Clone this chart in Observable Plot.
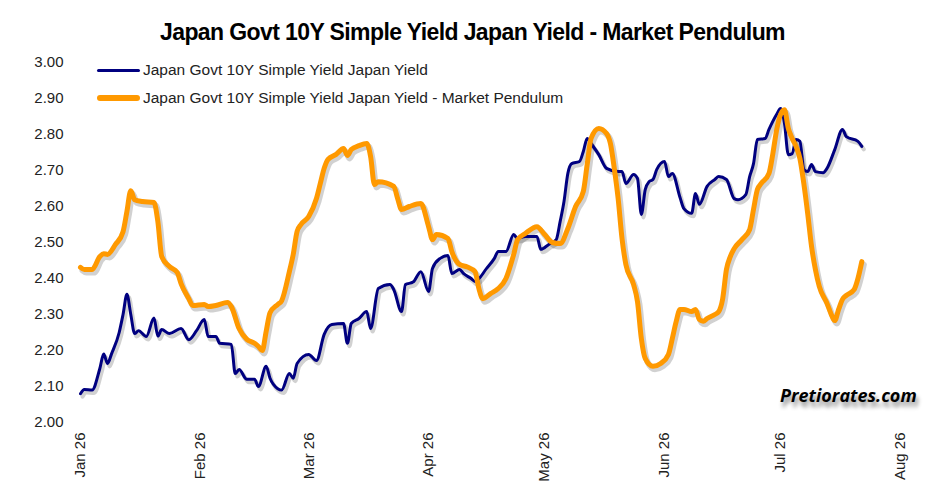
<!DOCTYPE html>
<html><head><meta charset="utf-8">
<script src="https://cdn.jsdelivr.net/npm/d3@7"></script>
<script src="https://cdn.jsdelivr.net/npm/@observablehq/plot@0.6"></script>
<style>
body{margin:0;background:#fff;}
#wrap{position:relative;width:945px;height:500px;font-family:"Liberation Sans",Arial,sans-serif;overflow:hidden;}
#title{position:absolute;left:0;top:21px;width:945px;text-align:center;font-weight:bold;font-size:23px;line-height:23px;letter-spacing:-0.6px;color:#000;}
.leg{position:absolute;left:97px;height:16px;font-size:15.5px;line-height:16px;color:#222;display:flex;align-items:center;white-space:nowrap;}
.leg .sw{display:inline-block;width:43px;border-radius:3px;margin-right:3px;}
#wm{position:absolute;left:780px;top:386px;font-family:"Open Sans",sans-serif;font-weight:bold;font-style:italic;font-size:18px;line-height:18px;color:#000;text-shadow:2px 5px 4px rgba(0,0,0,0.45);}
#chart{position:absolute;left:0;top:0;}
</style>
</head><body>
<div id="wrap">
  <div id="chart"></div>
  <div id="title"></div>
  <div class="leg" id="leg1" style="top:62px"><span class="sw" style="height:3px;background:#000080"></span><span class="tx"></span></div>
  <div class="leg" id="leg2" style="top:90px"><span class="sw" style="height:6px;background:#FF9900"></span><span class="tx"></span></div>
  <div id="wm">Pretiorates.com</div>
</div>
<script>
const titleText = "Japan Govt 10Y Simple Yield Japan Yield - Market Pendulum";
const seriesNames = ["Japan Govt 10Y Simple Yield Japan Yield", "Japan Govt 10Y Simple Yield Japan Yield - Market Pendulum"];
const seriesColors = ["#000080", "#FF9900"];

const xTicks = ["2026-01-01","2026-02-01","2026-03-01","2026-04-01","2026-05-01","2026-06-01","2026-07-01","2026-08-01"];
const yTicks = [2.0,2.1,2.2,2.3,2.4,2.5,2.6,2.7,2.8,2.9,3.0];

const blueDates = ["01-01","01-02","01-04","01-06","01-07","01-08","01-09","01-11","01-12","01-13","01-14","01-15","01-16","01-18","01-20","01-21","01-22","01-24","01-27","01-29","01-31",
"02-02","02-03","02-05","02-06","02-09","02-10","02-11","02-13","02-15","02-16","02-18","02-19","02-21","02-22","02-24","02-25","02-26",
"03-01","03-03","03-05","03-07","03-10","03-11","03-12","03-14","03-16","03-17","03-19","03-22","03-23","03-25","03-26","03-28","03-30",
"04-01","04-02","04-04","04-06","04-07","04-09","04-10","04-12","04-13","04-16","04-18","04-19","04-21","04-23","04-24","04-26","04-29","04-30",
"05-02","05-04","05-05","05-06","05-07","05-08","05-10","05-11","05-12","05-13","05-15","05-17","05-20","05-21","05-22","05-24","05-25","05-26","05-27","05-28","05-29","05-30",
"06-01","06-02","06-03","06-05","06-06","06-08","06-09","06-10","06-12","06-14","06-15","06-17","06-19","06-20","06-22","06-23","06-24","06-25","06-27","06-28","06-30",
"07-01","07-02","07-03","07-04","07-05","07-06","07-07","07-08","07-09","07-10","07-12","07-13","07-15","07-17","07-18","07-21","07-22"];
const blueValues = [2.080,2.092,2.090,2.150,2.190,2.164,2.190,2.250,2.300,2.356,2.300,2.247,2.255,2.239,2.290,2.240,2.258,2.247,2.261,2.230,2.255,
2.286,2.239,2.239,2.220,2.217,2.136,2.147,2.120,2.120,2.100,2.156,2.123,2.094,2.090,2.136,2.123,2.164,
2.189,2.172,2.245,2.272,2.275,2.220,2.275,2.289,2.308,2.261,2.372,2.383,2.369,2.308,2.383,2.390,2.419,
2.364,2.428,2.456,2.464,2.414,2.425,2.414,2.400,2.392,2.428,2.456,2.475,2.475,2.522,2.511,2.517,2.517,2.481,
2.494,2.508,2.558,2.614,2.692,2.719,2.725,2.753,2.789,2.775,2.744,2.706,2.697,2.697,2.664,2.689,2.678,2.578,2.647,2.669,2.675,2.703,
2.725,2.683,2.692,2.625,2.594,2.581,2.636,2.606,2.656,2.675,2.683,2.675,2.622,2.619,2.633,2.683,2.719,2.786,2.789,2.814,2.856,
2.872,2.831,2.744,2.747,2.786,2.781,2.703,2.697,2.717,2.697,2.694,2.706,2.758,2.814,2.794,2.781,2.767];

const orangeDates = ["01-01","01-02","01-04","01-06","01-07","01-08","01-10","01-12","01-13","01-14","01-15","01-17","01-20","01-21","01-22","01-24","01-26","01-27","01-29","01-30",
"02-02","02-03","02-05","02-08","02-09","02-11","02-13","02-15","02-16","02-17","02-18","02-19","02-21","02-22","02-24","02-25","02-26","02-27",
"03-01","03-03","03-04","03-05","03-06","03-08","03-10","03-11","03-12","03-14","03-16","03-17","03-18","03-19","03-23","03-24","03-25","03-27","03-30",
"04-01","04-02","04-03","04-06","04-07","04-09","04-11","04-13","04-14","04-15","04-17","04-19","04-21","04-23","04-24","04-26","04-29",
"05-01","05-03","05-05","05-07","05-09","05-11","05-12","05-13","05-15","05-17","05-18","05-19","05-20","05-21","05-22","05-24","05-25","05-26","05-27","05-29","05-31",
"06-02","06-03","06-04","06-05","06-06","06-08","06-09","06-10","06-11","06-12","06-14","06-15","06-16","06-17","06-18","06-19","06-21","06-23","06-24","06-25","06-26","06-28","06-29","06-30",
"07-01","07-02","07-03","07-04","07-05","07-06","07-07","07-08","07-09","07-10","07-11","07-13","07-14","07-15","07-16","07-17","07-18","07-20","07-21","07-22"];
const orangeValues = [2.431,2.425,2.425,2.461,2.469,2.467,2.494,2.530,2.586,2.644,2.619,2.614,2.611,2.558,2.461,2.433,2.417,2.386,2.344,2.325,
2.328,2.322,2.325,2.333,2.322,2.261,2.231,2.220,2.211,2.200,2.253,2.305,2.328,2.338,2.419,2.467,2.531,2.550,
2.572,2.622,2.664,2.706,2.731,2.744,2.761,2.742,2.758,2.769,2.775,2.739,2.661,2.669,2.656,2.622,2.592,2.600,2.608,
2.544,2.508,2.522,2.511,2.475,2.439,2.432,2.419,2.372,2.344,2.358,2.372,2.400,2.467,2.508,2.525,2.544,
2.522,2.500,2.497,2.539,2.600,2.642,2.717,2.789,2.817,2.803,2.775,2.706,2.622,2.511,2.439,2.383,2.336,2.233,2.178,2.156,2.164,
2.189,2.233,2.280,2.314,2.314,2.308,2.314,2.286,2.281,2.289,2.300,2.308,2.342,2.425,2.461,2.483,2.508,2.536,2.592,2.647,2.664,2.692,2.747,2.814,
2.856,2.869,2.817,2.789,2.767,2.733,2.664,2.581,2.489,2.425,2.378,2.331,2.303,2.283,2.314,2.342,2.353,2.369,2.400,2.447];

const year = "2026-";
const blue = blueDates.map((d, i) => ({date: new Date(year + d + "T00:00:00Z"), value: blueValues[i]}));
const orange = orangeDates.map((d, i) => ({date: new Date(year + d + "T00:00:00Z"), value: orangeValues[i]}));

document.getElementById("title").textContent = titleText;
document.querySelector("#leg1 .tx").textContent = seriesNames[0];
document.querySelector("#leg2 .tx").textContent = seriesNames[1];

const chart = Plot.plot({
  width: 945, height: 500,
  marginLeft: 80, marginRight: 45, marginTop: 62, marginBottom: 78,
  style: {fontFamily: "Liberation Sans, Arial, sans-serif", fontSize: "15px", color: "#222", background: "transparent", overflow: "visible"},
  x: {type: "utc", domain: [new Date(xTicks[0] + "T00:00:00Z"), new Date(xTicks[xTicks.length - 1] + "T00:00:00Z")]},
  y: {domain: [yTicks[0], yTicks[yTicks.length - 1]]},
  marks: [
    Plot.axisY(yTicks, {tickSize: 0, tickPadding: 17, tickFormat: d => d.toFixed(2), label: null, fontSize: 15}),
    Plot.axisX(xTicks.map(d => new Date(d + "T00:00:00Z")), {tickSize: 0, tickPadding: 10, tickRotate: -90, tickFormat: d3.utcFormat("%b %y"), label: null, fontSize: 15}),
    Plot.line(blue, {x: "date", y: "value", stroke: "#000", strokeOpacity: 0.18, strokeWidth: 4, dx: 2, dy: 3, curve: "monotone-x"}),
    Plot.line(orange, {x: "date", y: "value", stroke: "#000", strokeOpacity: 0.18, strokeWidth: 6, dx: 2, dy: 3, curve: "monotone-x"}),
    Plot.line(blue, {x: "date", y: "value", stroke: seriesColors[0], strokeWidth: 3, curve: "monotone-x"}),
    Plot.line(orange, {x: "date", y: "value", stroke: seriesColors[1], strokeWidth: 5, curve: "monotone-x"})
  ]
});
document.getElementById("chart").appendChild(chart);
</script>
</body></html>
